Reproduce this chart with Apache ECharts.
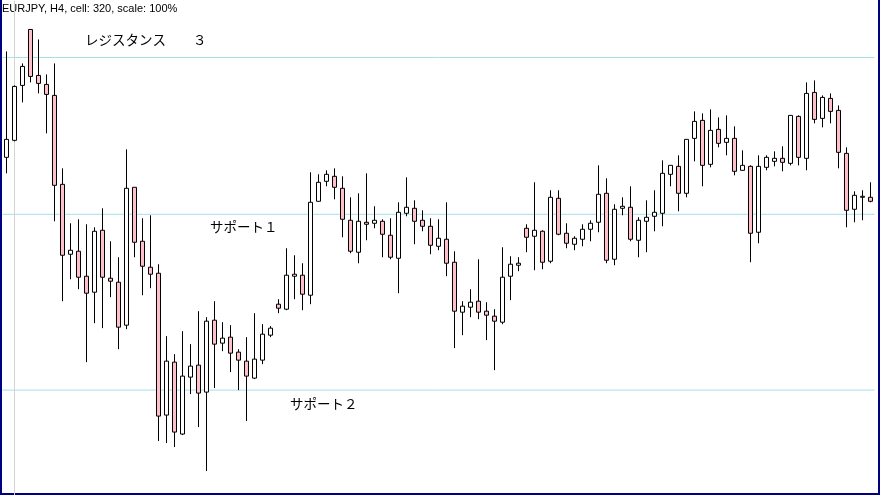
<!DOCTYPE html>
<html><head><meta charset="utf-8">
<script src="https://cdn.jsdelivr.net/npm/echarts/dist/echarts.min.js"></script>
<style>html,body{margin:0;padding:0;background:#fff}#c{width:880px;height:495px}</style>
</head><body><div id="c"></div><script>
// EURJPY H4 – price values in chart points
const opens = [338,355,410,466,420,411,400,311,241,244,
219,203,265,217,213,170,308,254,228,222,
80,133,61,118,130,103,175,152,158,143,
134,117,135,160,191,186,219,220,200,294,
314,319,307,275,243,273,272,274,260,237,
282,287,275,269,249,256,233,183,188,194,
184,179,173,219,230,267,259,264,234,297,
262,251,256,266,273,302,236,287,288,255,
274,279,282,321,329,302,357,375,331,366,
353,357,325,329,263,328,334,337,332,379,
337,403,377,397,385,342,286,298,298];
const closes = [356,409,429,419,412,401,310,240,245,218,
202,264,218,214,168,307,253,229,221,79,
134,63,119,129,102,174,151,157,142,135,
119,136,161,167,187,220,221,201,293,313,
321,308,276,244,274,271,275,261,238,283,
288,274,269,250,257,232,184,189,193,183,
180,174,218,231,232,258,265,233,298,261,
252,257,266,272,301,235,286,289,256,275,
278,283,322,330,302,356,374,330,365,352,
357,324,330,262,329,338,337,333,380,338,
402,376,398,384,343,285,300,299,294];
const lows = [322,354,393,413,402,362,274,194,216,206,
133,172,167,198,146,166,238,200,207,54,
52,48,60,101,68,24,107,144,123,105,
74,116,131,158,182,185,196,185,191,294,
309,296,258,242,232,255,267,238,236,202,
279,251,264,241,245,219,147,160,178,176,
155,125,171,195,224,243,225,226,232,260,
247,245,249,254,263,232,230,280,254,238,
243,264,269,309,284,298,334,309,328,348,
340,320,325,233,252,325,329,324,330,330,
325,372,368,372,327,268,273,275,293];
const highs = [444,410,432,466,456,421,432,327,272,276,
271,268,287,254,238,346,308,277,280,231,
159,141,164,151,184,178,194,173,170,146,
158,182,171,169,196,247,240,232,323,321,
325,327,319,298,302,322,289,276,277,293,
318,295,285,277,276,293,244,194,206,236,
193,186,248,239,238,271,313,265,305,305,
272,259,271,275,330,317,291,298,309,278,
295,305,335,330,340,356,384,382,386,378,
380,369,345,330,340,340,344,349,380,380,
413,415,400,402,390,348,304,305,313];
const categories = opens.map((_, i) => 'bar ' + (i + 1));
const levelNames = ['レジスタンス　　３', 'サポート１', 'サポート２'];
const levelValues = [438, 281, 105];
const markerBar = categories[1];

const ohlc = opens.map((o, i) => [o, closes[i], lows[i], highs[i]]);

const chart = echarts.init(document.getElementById('c'), null, {renderer: 'canvas'});
const jp = '13.5px "Noto Sans CJK JP"';
chart.setOption({
  animation: false,
  backgroundColor: '#ffffff',
  grid: {left: 2.5, right: 5.5, top: 0.5, bottom: -0.5},
  xAxis: [
    {type: 'category', data: categories, show: false, boundaryGap: true},
    {type: 'value', min: 0, max: 1, show: false}
  ],
  yAxis: {type: 'value', min: 0, max: 495, show: false, splitLine: {show: false}},
  series: [
    {
      type: 'line', data: [], silent: true, z: 1,
      markLine: {
        symbol: 'none', silent: true, label: {show: false}, animation: false,
        lineStyle: {color: '#d3d3d3', width: 1, type: 'solid'},
        data: [{xAxis: markerBar}]
      }
    },
    ...levelValues.map(v => ({
      type: 'line', xAxisIndex: 1, data: [[0, v], [1, v]], silent: true, z: 1,
      symbol: 'none', showSymbol: false,
      lineStyle: {color: '#a6dcec', width: 1, type: 'solid'}
    })),
    {
      type: 'candlestick', data: ohlc, barWidth: 4, z: 10,
      itemStyle: {color: '#ffffff', color0: '#ffc0cb', borderColor: '#000000', borderColor0: '#000000', borderWidth: 1}
    }
  ],
  graphic: [
    {type: 'text', x: 2, y: 9, style: {text: 'EURJPY, H4, cell: 320, scale: 100%', font: '11px "Liberation Sans"', fill: '#000', verticalAlign: 'middle'}},
    {type: 'text', x: 85, y: 40, style: {text: levelNames[0], font: jp, fill: '#000', verticalAlign: 'middle'}},
    {type: 'text', x: 210, y: 227, style: {text: levelNames[1], font: jp, fill: '#000', verticalAlign: 'middle'}},
    {type: 'text', x: 290, y: 404, style: {text: levelNames[2], font: jp, fill: '#000', verticalAlign: 'middle'}},
    {type: 'line', shape: {x1: 1, y1: 0, x2: 1, y2: 495}, style: {stroke: '#000080', lineWidth: 2}},
    {type: 'line', shape: {x1: 879, y1: 0, x2: 879, y2: 495}, style: {stroke: '#000080', lineWidth: 2}},
    {type: 'line', shape: {x1: 0, y1: 494, x2: 880, y2: 494}, style: {stroke: '#000080', lineWidth: 2}}
  ]
});
</script></body></html>
